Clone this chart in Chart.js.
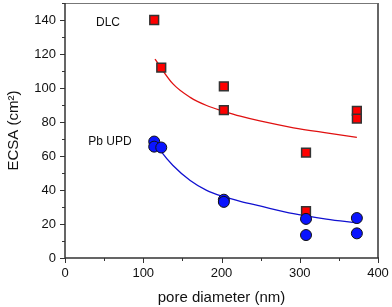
<!DOCTYPE html>
<html>
<head>
<meta charset="utf-8">
<script src="https://cdn.jsdelivr.net/npm/chart.js@4.4.1/dist/chart.umd.min.js"></script>
<style>
  html, body { margin: 0; padding: 0; background: #fff; }
  #wrap { width: 392px; height: 307px; }
</style>
</head>
<body>
<div id="wrap"><canvas id="ecsa"></canvas></div>
<script>
// measured points (pore diameter nm, ECSA cm2)
const dlcX = [114, 123, 203, 203, 308, 308, 373, 373];
const dlcY = [140, 112, 101, 87, 62, 27.5, 86.5, 82];
const pbX = [114, 114, 123, 203, 203, 308, 308, 373, 373];
const pbY = [68.5, 65.5, 65, 34.3, 33, 23, 13.5, 23.5, 14.5];

// fitted curves
const dlcFitX = [115, 138, 160, 181, 203, 224, 249, 292, 334, 373];
const dlcFitY = [117, 102.4, 94.5, 89.7, 86.3, 83.4, 80.6, 76.6, 73.6, 71];
const pbFitX = [115, 122, 138, 160, 181, 202, 224, 249, 292, 334, 373];
const pbFitY = [68, 63.2, 54.4, 45.6, 39.8, 36.2, 33.3, 30.6, 26.1, 22.9, 20.6];

const xTicks = [0, 100, 200, 300, 400];
const yTicks = [0, 20, 40, 60, 80, 100, 120, 140];

function pts(xs, ys) {
    return xs.map((x, i) => ({x: x, y: ys[i]}));
}

const frame = {
    id: 'frame',
    afterDraw(chart) {
        let ctx = chart.ctx;
        let a = chart.chartArea;
        let xs = chart.scales.x, ys = chart.scales.y;
        ctx.save();
        // box
        ctx.strokeStyle = '#777';
        ctx.lineWidth = 1;
        ctx.beginPath();
        ctx.moveTo(a.left, a.top + 0.5);
        ctx.lineTo(a.right + 0.5, a.top + 0.5);
        ctx.stroke();
        ctx.lineWidth = 2;
        ctx.strokeStyle = '#666';
        ctx.beginPath();
        ctx.moveTo(a.right, a.top);
        ctx.lineTo(a.right, a.bottom);
        ctx.stroke();
        ctx.strokeStyle = '#333';
        ctx.lineWidth = 1.5;
        ctx.beginPath();
        ctx.moveTo(a.left, a.top);
        ctx.lineTo(a.left, a.bottom);
        ctx.lineTo(a.right + 1, a.bottom);
        ctx.stroke();
        // ticks
        ctx.lineWidth = 1;
        for (let v = 0; v <= 400; v += 50) {
            let px = Math.round(xs.getPixelForValue(v)) + 0.5;
            let len = v % 100 === 0 ? 5 : 3;
            ctx.beginPath();
            ctx.moveTo(px, a.bottom);
            ctx.lineTo(px, a.bottom + len);
            ctx.stroke();
        }
        for (let v = 0; v <= 150; v += 10) {
            let py = Math.round(ys.getPixelForValue(v)) + 0.5;
            let len = v % 20 === 0 ? 5 : 3;
            ctx.beginPath();
            ctx.moveTo(a.left, py);
            ctx.lineTo(a.left - len, py);
            ctx.stroke();
        }
        // series labels
        ctx.fillStyle = '#111';
        ctx.font = '12px "Liberation Sans", Arial, sans-serif';
        ctx.textAlign = 'center';
        ctx.textBaseline = 'middle';
        ctx.fillText('DLC', xs.getPixelForValue(55), ys.getPixelForValue(138.5));
        ctx.fillText('Pb UPD', xs.getPixelForValue(57.5), ys.getPixelForValue(68.5));
        ctx.restore();
    }
};

let ctx = document.getElementById('ecsa');
let ecsaChart = new Chart(ctx, {
    type: 'scatter',
    data: {
        datasets: [
            {
                label: 'Pb UPD',
                data: pts(pbX, pbY),
                pointStyle: 'circle',
                pointRadius: 5.5,
                pointBackgroundColor: '#0a14ff',
                pointBorderColor: '#111',
                pointBorderWidth: 1,
                showLine: false
            },
            {
                label: 'DLC',
                data: pts(dlcX, dlcY),
                pointStyle: 'rect',
                pointRadius: 6.2,
                pointBackgroundColor: '#ff0000',
                pointBorderColor: '#333',
                pointBorderWidth: 1.5,
                showLine: false
            },
            {
                label: 'DLC fit',
                data: pts(dlcFitX, dlcFitY),
                showLine: true,
                borderColor: '#e01010',
                borderWidth: 1.3,
                pointRadius: 0,
                cubicInterpolationMode: 'monotone'
            },
            {
                label: 'Pb UPD fit',
                data: pts(pbFitX, pbFitY),
                showLine: true,
                borderColor: '#1010d0',
                borderWidth: 1.3,
                pointRadius: 0,
                cubicInterpolationMode: 'monotone'
            }
        ]
    },
    options: {
        responsive: true,
        maintainAspectRatio: false,
        animation: false,
        layout: { autoPadding: false, padding: { top: 3, right: 14, left: 0, bottom: 0 } },
        plugins: {
            legend: { display: false },
            tooltip: { enabled: false }
        },
        scales: {
            x: {
                type: 'linear',
                min: 0,
                max: 400,
                border: { display: false },
                grid: { display: false },
                afterBuildTicks: function (s) {
                    s.ticks = xTicks.map(v => ({value: v}));
                },
                afterFit: function (s) {
                    s.height = 49;
                    s.paddingLeft = 0;
                    s.paddingRight = 0;
                },
                ticks: {
                    color: '#111',
                    padding: 0,
                    maxRotation: 0,
                    font: { family: '"Liberation Sans", Arial, sans-serif', size: 13 }
                },
                title: {
                    display: true,
                    text: 'pore diameter (nm)',
                    color: '#111',
                    padding: { top: 4, bottom: 0 },
                    font: { family: '"Liberation Sans", Arial, sans-serif', size: 15 }
                }
            },
            y: {
                type: 'linear',
                min: 0,
                max: 150,
                border: { display: false },
                grid: { display: false },
                afterBuildTicks: function (s) {
                    s.ticks = yTicks.map(v => ({value: v}));
                },
                afterFit: function (s) {
                    s.width = 65;
                    s.paddingTop = 0;
                    s.paddingBottom = 0;
                },
                ticks: {
                    color: '#111',
                    padding: 1,
                    font: { family: '"Liberation Sans", Arial, sans-serif', size: 13 }
                },
                title: {
                    display: true,
                    text: 'ECSA (cm²)',
                    color: '#111',
                    padding: { top: 5, bottom: 0 },
                    font: { family: '"Liberation Sans", Arial, sans-serif', size: 15 }
                }
            }
        }
    },
    plugins: [frame]
});
</script>
</body>
</html>
